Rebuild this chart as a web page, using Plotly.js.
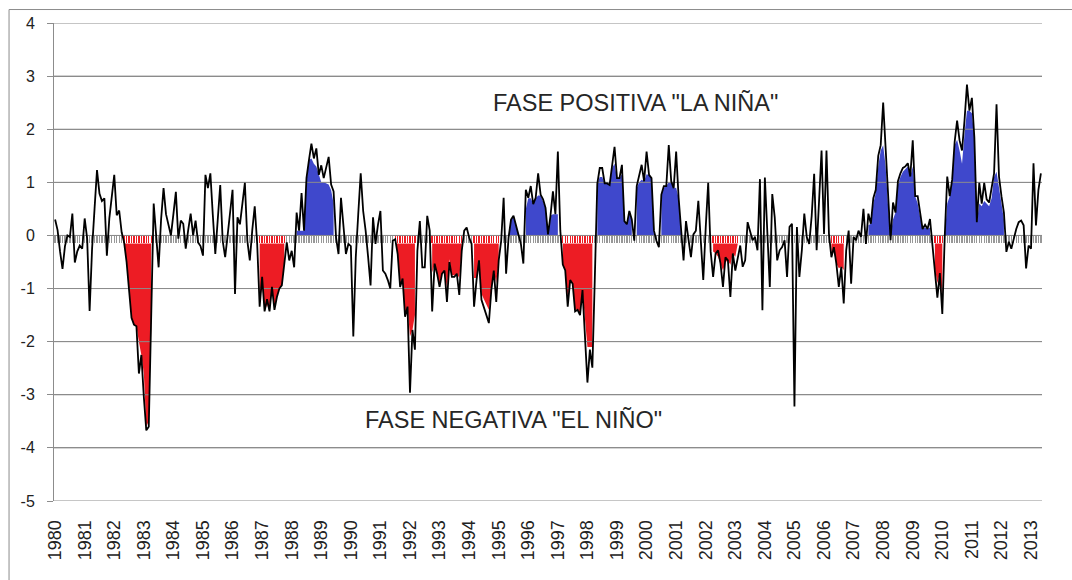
<!DOCTYPE html>
<html><head><meta charset="utf-8">
<script src="https://cdn.plot.ly/plotly-3.0.1.min.js"></script>
<style>html,body{margin:0;padding:0;background:#fff;} #chart{width:1072px;height:580px;}</style>
</head><body><div id="chart"></div>
<script>
const startYear = 1980;
const yearLabels = ['1980','1981','1982','1983','1984','1985','1986','1987','1988','1989',
  '1990','1991','1992','1993','1994','1995','1996','1997','1998','1999',
  '2000','2001','2002','2003','2004','2005','2006','2007','2008','2009',
  '2010','2011','2012','2013'];
const yTickVals = [-5, -4, -3, -2, -1, 0, 1, 2, 3, 4];
const yTickText = ['-5', '-4', '-3', '-2', '-1', '0', '1', '2', '3', '4'];

// Monthly index values, Jan 1980 .. May 2013
const soi1980s = [
  0.3, 0.1, -0.3, -0.63, -0.2, 0.0, -0.03, 0.41, -0.51, -0.3, -0.19, -0.25,
  0.32, -0.06, -1.42, -0.25, 0.5, 1.23, 0.79, 0.65, 0.7, -0.38, 0.32, 0.7,
  1.14, 0.38, 0.47, 0.06, -0.13, -0.5, -1.0, -1.55, -1.68, -1.71, -2.6, -2.25,
  -3.04, -3.67, -3.6, -1.77, 0.6, 0.0, -0.6, 0.3, 0.89, 0.4, 0.19, 0.0,
  0.4, 0.82, -0.06, 0.28, 0.22, -0.25, 0.1, 0.41, 0.0, 0.28, -0.13, -0.2,
  -0.38, 1.14, 0.89, 1.17, 0.38, -0.35, 0.3, 0.95, -0.1, -0.41, 0.0, 0.4,
  0.86, -1.1, 0.34, 0.21, 0.6, 0.99, -0.1, -0.47, 0.1, 0.55, -0.16, -1.34,
  -0.78, -1.43, -1.2, -1.43, -0.97, -1.4, -1.16, -1.0, -0.94, -0.47, -0.13, -0.47,
  -0.29, -0.6, 0.43, 0.09, 0.8, 0.09, 1.08, 1.42, 1.73, 1.45, 1.64, 1.14,
  1.32, 1.08, 1.3, 1.48, 0.96, 0.83, -0.04, -0.35, 0.71, 0.15, -0.35, -0.16];
const soi1990s = [
  -0.2, -1.9, -0.41, 0.4, 1.17, 0.46, 0.09, -0.4, -0.94, 0.34, -0.16, 0.2,
  0.46, -0.66, -0.72, -0.84, -1.0, -0.1, -0.07, -0.35, -0.97, -0.81, -1.53, -1.34,
  -2.96, -1.78, -2.15, -0.29, 0.27, -0.6, -0.6, 0.37, 0.09, -1.43, -0.53, -0.72,
  -0.97, -0.72, -0.66, -1.25, -0.5, -0.78, -0.78, -0.72, -1.12, -0.29, 0.09, 0.15,
  -0.04, -0.16, -1.34, -0.84, -0.47, -1.21, -1.34, -1.5, -1.65, -1.03, -0.66, -1.25,
  -0.47, -0.1, 0.71, -0.72, -0.04, 0.3, 0.37, 0.21, 0.02, -0.16, -0.53, 0.86,
  0.71, 0.93, 0.59, 0.71, 1.17, 0.77, 0.68, 0.52, 0.02, 0.37, 0.83, 0.4,
  1.58, 0.09, -0.55, -0.66, -1.34, -0.84, -0.91, -1.43, -1.4, -1.5, -1.03, -1.9,
  -2.77, -2.15, -2.49, -0.8, 0.97, 1.27, 1.27, 0.98, 0.98, 0.95, 1.27, 1.67,
  1.08, 1.08, 1.33, 0.27, 0.21, 0.46, 0.3, -0.1, 0.93, 1.14, 1.33, 1.02];
const soi2000s = [
  1.58, 1.14, 1.08, 0.09, -0.1, -0.22, 0.77, 0.93, 0.93, 1.7, 1.02, 0.89,
  1.58, 0.71, 0.02, -0.47, 0.27, -0.1, -0.41, 0.02, 0.09, 0.65, -0.2, -0.84,
  0.15, 0.99, -0.3, -0.78, -0.34, -0.28, -0.53, -0.97, -0.41, -0.47, -1.16, -0.34,
  -0.66, -0.41, -0.19, -0.59, -0.47, 0.25, 0.09, -0.09, -0.03, -0.28, 1.06, -1.41,
  1.09, -0.03, -0.97, 0.78, 0.34, -0.47, -0.28, -0.22, -0.09, -0.78, 0.16, 0.22,
  -3.22, 0.16, -0.78, -0.28, 0.41, -0.03, -0.16, 0.37, 1.16, -0.28, 0.66, 1.6,
  0.03, 1.6, 0.03, -0.41, -0.22, -0.53, -0.97, -0.59, -1.28, -0.28, 0.09, -0.91,
  -0.03, -0.09, 0.09, -0.03, 0.5, -0.16, 0.41, 0.22, 0.7, 0.86, 1.5, 1.7,
  2.5, 1.67, 0.62, -0.09, 0.62, 0.43, 1.02, 1.17, 1.27, 1.3, 1.36, 1.11,
  1.79, 0.74, 0.74, 0.43, 0.12, 0.2, 0.12, 0.31, -0.19, -0.62, -1.17, -0.71];
const soi2010s = [
  -1.48, 0.0, 1.11, 0.74, 1.05, 1.76, 2.16, 1.79, 1.6, 2.16, 2.84, 2.35,
  2.59, 1.85, 0.25, 0.99, 0.6, 0.99, 0.68, 0.62, 0.86, 1.17, 2.47, 1.11,
  0.74, 0.43, -0.31, -0.12, -0.25, -0.06, 0.12, 0.25, 0.28, 0.19, -0.62, -0.19,
  -0.25, 1.36, 0.19, 0.86, 1.17];

// El Niño (negative phase) shaded periods: first month and shaded values
const ninoStart = ['1982-05','1986-12','1991-07','1992-10','1994-03','1997-03','2002-04','2006-04','2009-10'];
const ninoFill = [
  [-0.13,-0.5,-1.0,-1.55,-1.68,-1.71,-2.0,-2.25,-2.6,-3.6,-3.5,-1.77],
  [-1.34,-0.9,-1.43,-1.3,-1.43,-1.0,-1.35,-1.16,-1.0,-0.94,-0.47],
  [-0.07,-0.35,-0.9,-0.81,-1.5,-1.34,-1.9,-1.78,-1.5],
  [-0.7,-0.55,-0.72,-0.9,-0.72,-0.66,-1.0,-0.45,-0.75,-0.75,-0.72,-0.8,-0.29],
  [-0.8,-0.8,-0.47,-1.1,-1.2,-1.3,-1.4,-1.03,-0.66,-0.9,-0.47],
  [-0.55,-0.66,-1.2,-0.84,-0.91,-1.4,-1.4,-1.45,-1.03,-1.5,-2.1,-2.1,-2.1],
  [-0.3,-0.34,-0.4,-0.53,-0.66,-0.5,-0.47,-0.55,-0.34,-0.4,-0.19],
  [-0.41,-0.3,-0.53,-0.62,-0.59,-0.65],
  [-0.62,-0.9,-0.71,-1.2]];
// La Niña (positive phase) shaded periods
const ninaStart = ['1988-03','1995-05','1995-12','1998-05','1999-09','2000-07','2007-07','2010-02'];
const ninaFill = [
  [0.09,0.09,0.09,0.09,1.0,1.42,1.45,1.35,1.3,1.14,1.0,1.0,0.98,0.96,0.85,0.6],
  [0.0,0.3,0.35,0.21,0.02],
  [0.5,0.7,0.7,0.59,0.7,0.75,0.75,0.65,0.52,0.05,0.37,0.4,0.4,0.4],
  [0.97,1.1,1.1,0.98,0.98,0.95,1.27,1.35,1.08,1.08,1.15,0.27,0.21,0.4,0.3],
  [0.9,1.0,1.05,1.02,1.15,1.14,1.08,0.09],
  [0.77,0.9,0.93,1.0,1.0,0.89,0.9,0.71,0.02],
  [0.19,0.22,0.6,0.8,1.3,1.6,1.7,1.3,0.55,0.0,0.3,0.43,0.95,1.1,1.2,1.25,1.3,1.11,1.3,0.74,0.6,0.35,0.12,0.15,0.12,0.15],
  [0.0,0.6,0.74,1.0,1.7,1.8,1.6,1.35,1.9,2.35,2.35,2.3,1.85,0.25,0.6,0.55,0.65,0.6,0.55,0.7,1.1,1.2,0.9,0.6,0.3]];

const bandDepth = -0.15;
const RED = '#ed1c24', BLUE = '#3f48cc', GRID = '#8c8c8c', BAND = '#989898';
const FONT = 'Liberation Sans, Arial, sans-serif';

const soi = soi1980s.concat(soi1990s, soi2000s, soi2010s);
const months = soi.map((_, i) => i);
function monthIndex(s) { const p = s.split('-').map(Number); return (p[0] - startYear) * 12 + (p[1] - 1); }

const inNino = months.map(() => false);
ninoStart.forEach((s, k) => { const i0 = monthIndex(s); ninoFill[k].forEach((_, j) => { inNino[i0 + j] = true; }); });

function phaseTrace(start, vals, base, color) {
  const i0 = monthIndex(start);
  const xs = vals.map((_, j) => i0 + j);
  return {
    type: 'scatter', mode: 'lines',
    x: xs.concat(xs.slice().reverse()),
    y: vals.concat(vals.map(() => base)),
    fill: 'toself', fillcolor: color, line: {width: 0, color: color},
    hoverinfo: 'skip', showlegend: false
  };
}

const xr = [-0.45, soi.length - 1 + 0.45];
const traces = [];
traces.push({
  type: 'bar', x: months, y: months.map(() => bandDepth), width: 0.55,
  marker: {color: months.map(i => inNino[i] ? RED : BAND), line: {width: 0}},
  hoverinfo: 'skip', showlegend: false
});
ninoStart.forEach((s, k) => traces.push(phaseTrace(s, ninoFill[k], bandDepth, RED)));
ninaStart.forEach((s, k) => traces.push(phaseTrace(s, ninaFill[k], 0, BLUE)));
// gridlines redrawn over the shaded areas
const gx = [], gy = [];
yTickVals.forEach(v => { gx.push(xr[0], xr[1], null); gy.push(v, v, null); });
traces.push({type: 'scatter', mode: 'lines', x: gx, y: gy, line: {color: GRID, width: 1}, hoverinfo: 'skip', showlegend: false});
traces.push({type: 'scatter', mode: 'lines', x: months, y: soi, line: {color: '#000', width: 1.8}, hoverinfo: 'skip', showlegend: false});

const layout = {
  width: 1072, height: 580,
  margin: {l: 54, r: 30, t: 23, b: 79},
  paper_bgcolor: '#fff', plot_bgcolor: '#fff',
  showlegend: false, bargap: 0,
  font: {family: FONT, color: '#222'},
  xaxis: {
    range: xr, showgrid: false, zeroline: false, showline: false,
    tickmode: 'array', tickvals: yearLabels.map((_, k) => k * 12), ticktext: yearLabels,
    tickangle: -90, tickfont: {size: 18, family: FONT, color: '#222'},
    ticks: 'outside', ticklen: 6, tickcolor: 'rgba(0,0,0,0)', ticklabelstandoff: 5
  },
  yaxis: {
    range: [-5, 4], tickmode: 'array', tickvals: yTickVals, ticktext: yTickText,
    showgrid: true, gridcolor: GRID, gridwidth: 1,
    zeroline: false, showline: true, linecolor: GRID, linewidth: 1,
    ticks: 'outside', ticklen: 6, tickcolor: GRID,
    tickfont: {size: 16, family: FONT, color: '#222'}, ticklabelstandoff: 9
  },
  annotations: [
    {x: 235.4, y: 2.5, xref: 'x', yref: 'y', text: 'FASE POSITIVA "LA NIÑA"', showarrow: false,
     xanchor: 'center', yanchor: 'middle', font: {size: 23.5, family: FONT, color: '#262626'}},
    {x: 185.8, y: -3.48, xref: 'x', yref: 'y', text: 'FASE NEGATIVA "EL NIÑO"', showarrow: false,
     xanchor: 'center', yanchor: 'middle', font: {size: 23.5, family: FONT, color: '#262626'}}
  ],
  shapes: [
    {type: 'rect', xref: 'paper', yref: 'paper', x0: -0.0455, x1: 1.1, y0: -0.3, y1: 1.0282,
     line: {color: GRID, width: 1}, fillcolor: 'rgba(0,0,0,0)', layer: 'above'}
  ]
};

Plotly.newPlot('chart', traces, layout, {staticPlot: true, displayModeBar: false});
</script>
</body></html>
